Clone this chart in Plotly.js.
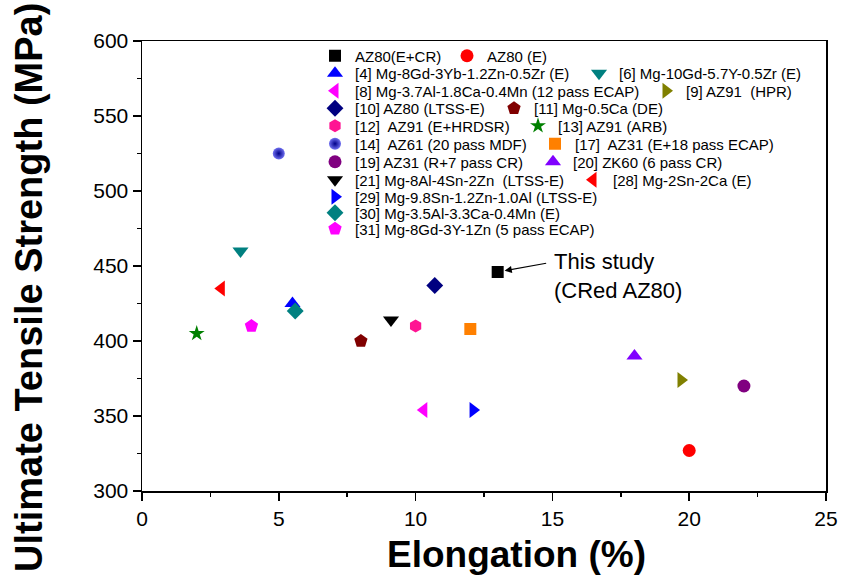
<!DOCTYPE html>
<html>
<head>
<meta charset="utf-8">
<script src="https://cdn.plot.ly/plotly-3.0.1.min.js"></script>
<style>html,body{margin:0;padding:0;background:#fff;}#chart{width:842px;height:576px;}</style>
</head>
<body>
<div id="chart"></div>
<script>
// ---- data ----
const seriesNames = [
  "AZ80(E+CR)", "AZ80 (E)",
  "[4] Mg-8Gd-3Yb-1.2Zn-0.5Zr (E)", "[6] Mg-10Gd-5.7Y-0.5Zr (E)",
  "[8] Mg-3.7Al-1.8Ca-0.4Mn (12 pass ECAP)", "[9] AZ91\u00a0 (HPR)",
  "[10] AZ80 (LTSS-E)", "[11] Mg-0.5Ca (DE)",
  "[12]\u00a0 AZ91 (E+HRDSR)", "[13] AZ91 (ARB)",
  "[14]\u00a0 AZ61 (20 pass MDF)", "[17]\u00a0 AZ31 (E+18 pass ECAP)",
  "[19] AZ31 (R+7 pass CR)", "[20] ZK60 (6 pass CR)",
  "[21] Mg-8Al-4Sn-2Zn\u00a0 (LTSS-E)", "[28] Mg-2Sn-2Ca (E)",
  "[29] Mg-9.8Sn-1.2Zn-1.0Al (LTSS-E)",
  "[30] Mg-3.5Al-3.3Ca-0.4Mn (E)",
  "[31] Mg-8Gd-3Y-1Zn (5 pass ECAP)"
];
const elongation = [13.0, 20.0, 5.5, 3.6, 10.3, 19.7, 10.7, 8.0, 10.0, 2.0, 5.0, 12.0, 22.0, 18.0, 9.1, 2.9, 12.1, 5.6, 4.0];
const uts        = [446, 327, 425, 460, 354, 374, 437, 400, 410, 405, 525, 408, 370, 390, 414, 435, 354, 420, 410];
const annotationText = "This study<br>(CRed AZ80)";

// ---- styles ----
const symbols = ["square","circle","triangle-up","triangle-down","triangle-left","triangle-right","diamond","pentagon","hexagon","star","circle","square","circle","triangle-up","triangle-down","triangle-left","triangle-right","diamond","pentagon"];
const colors  = ["#000000","#ff0000","#0000ff","#008080","#ff00ff","#808000","#000080","#800000","#ff1493","#008000","#2020c0","#ff8000","#800080","#8000ff","#000000","#ff0000","#0000ff","#008080","#ff00ff"];
const sizes   = [12,13,14,14,14,14,13,14,13,12,12,12,13,14,14,14,14,13,14];
const legendRow = [1,1,2,2,3,3,4,4,5,5,6,6,7,7,8,8,9,10,11];
const rowWidths = {0:87, 2:219, 4:286, 6:134, 8:158, 10:175, 12:173, 14:213};
const rowPixelY = [56, 73.5, 91, 108.5, 126, 144, 162, 180, 197, 213, 229];

const FONT = "Liberation Sans, Arial, Helvetica, sans-serif";
const M = {l:142, r:16, t:41, b:85};
const plotW = 842 - M.l - M.r, plotH = 576 - M.t - M.b;

const traces = seriesNames.map((n, i) => {
  const t = {
    type: "scatter", mode: "markers", name: n,
    x: [elongation[i]], y: [uts[i]],
    marker: {symbol: symbols[i], color: colors[i], size: sizes[i], line: {width: 0}},
    legend: legendRow[i] === 1 ? "legend" : "legend" + legendRow[i],
    hoverinfo: "x+y+name"
  };
  if (i === 10) {
    t.marker.color = "#7070f0";
    t.marker.gradient = {type: "radial", color: "#000088"};
  }
  if (rowWidths[i] !== undefined) t.legendwidth = rowWidths[i];
  return t;
});

const layout = {
  width: 842, height: 576,
  margin: M,
  paper_bgcolor: "#fff", plot_bgcolor: "#fff",
  font: {family: FONT, color: "#000"},
  showlegend: true,
  xaxis: {
    range: [0, 25], dtick: 5, tick0: 0,
    ticks: "outside", ticklen: 8, tickwidth: 1.5, tickcolor: "#000",
    minor: {dtick: 2.5, ticks: "outside", ticklen: 4, tickwidth: 1.5, tickcolor: "#000"},
    showline: true, linewidth: 1.5, linecolor: "#000", mirror: true,
    showgrid: false, zeroline: false,
    tickfont: {size: 21, family: FONT, color: "#000"}
  },
  yaxis: {
    range: [300, 600], dtick: 50, tick0: 300,
    ticks: "outside", ticklen: 8, tickwidth: 1.5, tickcolor: "#000",
    minor: {dtick: 25, ticks: "outside", ticklen: 4, tickwidth: 1.5, tickcolor: "#000"},
    showline: true, linewidth: 1.5, linecolor: "#000", mirror: true,
    showgrid: false, zeroline: false,
    tickfont: {size: 21, family: FONT, color: "#000"}
  },
  annotations: [
    {xref: "paper", yref: "paper", x: (516 - M.l) / plotW, y: 1 - (554 - M.t) / plotH,
     xanchor: "center", yanchor: "middle", showarrow: false,
     text: "<b>Elongation (%)</b>", font: {size: 37, family: FONT, color: "#000"}},
    {xref: "paper", yref: "paper", x: (29 - M.l) / plotW, y: 1 - (288 - M.t) / plotH,
     xanchor: "center", yanchor: "middle", showarrow: false, textangle: -90,
     text: "<b>Ultimate Tensile Strength (MPa)</b>", font: {size: 38, family: FONT, color: "#000"}},
    {x: elongation[0], y: uts[0], xref: "x", yref: "y", text: "",
     showarrow: true, ax: 50, ay: -9, arrowhead: 2, arrowsize: 1.2, arrowwidth: 1.2,
     arrowcolor: "#000", standoff: 7},
    {x: elongation[0], y: uts[0], xref: "x", yref: "y", text: annotationText,
     showarrow: false, xanchor: "left", yanchor: "middle", align: "left",
     xshift: 54, yshift: -4, font: {size: 22, family: FONT, color: "#000"}}
  ]
};

for (let r = 1; r <= 11; r++) {
  const key = r === 1 ? "legend" : "legend" + r;
  layout[key] = {
    orientation: "h", x: (315 - M.l) / plotW, xanchor: "left",
    y: 1 - (rowPixelY[r - 1] - M.t) / plotH, yanchor: "middle",
    bgcolor: "rgba(0,0,0,0)", borderwidth: 0,
    font: {size: 15, family: FONT, color: "#000"},
    traceorder: "normal"
  };
}

Plotly.newPlot("chart", traces, layout, {displayModeBar: false, staticPlot: true});
</script>
</body>
</html>
